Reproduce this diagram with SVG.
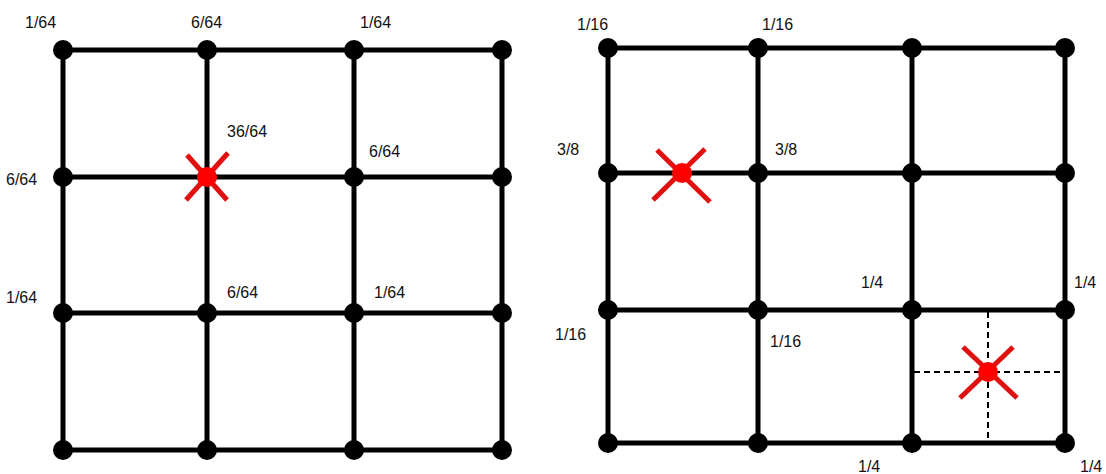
<svg xmlns="http://www.w3.org/2000/svg" width="1106" height="474" viewBox="0 0 1106 474">
<style>
.ln{stroke:#000;stroke-width:5;stroke-linecap:round}
.dash{stroke:#000;stroke-width:2;stroke-dasharray:6 4}
.nd{fill:#000}
.x{stroke:#e01010;stroke-width:5;stroke-linecap:butt}
.xd{fill:#f00}
text{font-family:"Liberation Sans",Arial,sans-serif;font-size:16px;fill:#111}
</style>
<rect width="1106" height="474" fill="#fff"/>
<g id="connectors">
  <line class="ln" x1="63" y1="50" x2="502" y2="50"/>
  <line class="ln" x1="63" y1="177" x2="502" y2="177"/>
  <line class="ln" x1="63" y1="313" x2="502" y2="313"/>
  <line class="ln" x1="63" y1="450" x2="502" y2="450"/>
  <line class="ln" x1="63" y1="50" x2="63" y2="450"/>
  <line class="ln" x1="207" y1="50" x2="207" y2="450"/>
  <line class="ln" x1="354" y1="50" x2="354" y2="450"/>
  <line class="ln" x1="502" y1="50" x2="502" y2="450"/>
  <line class="ln" x1="608" y1="48" x2="1065" y2="48"/>
  <line class="ln" x1="608" y1="173" x2="1065" y2="173"/>
  <line class="ln" x1="608" y1="310" x2="1065" y2="310"/>
  <line class="ln" x1="608" y1="443" x2="1065" y2="443"/>
  <line class="ln" x1="608" y1="48" x2="608" y2="443"/>
  <line class="ln" x1="758" y1="48" x2="758" y2="443"/>
  <line class="ln" x1="912" y1="48" x2="912" y2="443"/>
  <line class="ln" x1="1065" y1="48" x2="1065" y2="443"/>
  <line class="dash" x1="988" y1="312" x2="988" y2="441"/>
  <line class="dash" x1="914" y1="372" x2="1063" y2="372"/>
</g>
<g id="nodes-left">
  <g id="L00"><circle class="nd" cx="63" cy="50" r="10"/></g>
  <g id="L01"><circle class="nd" cx="207" cy="50" r="10"/></g>
  <g id="L02"><circle class="nd" cx="354" cy="50" r="10"/></g>
  <g id="L03"><circle class="nd" cx="502" cy="50" r="10"/></g>
  <g id="L10"><circle class="nd" cx="63" cy="177" r="10"/></g>
  <g id="L12"><circle class="nd" cx="354" cy="177" r="10"/></g>
  <g id="L13"><circle class="nd" cx="502" cy="177" r="10"/></g>
  <g id="L20"><circle class="nd" cx="63" cy="313" r="10"/></g>
  <g id="L21"><circle class="nd" cx="207" cy="313" r="10"/></g>
  <g id="L22"><circle class="nd" cx="354" cy="313" r="10"/></g>
  <g id="L23"><circle class="nd" cx="502" cy="313" r="10"/></g>
  <g id="L30"><circle class="nd" cx="63" cy="450" r="10"/></g>
  <g id="L31"><circle class="nd" cx="207" cy="450" r="10"/></g>
  <g id="L32"><circle class="nd" cx="354" cy="450" r="10"/></g>
  <g id="L33"><circle class="nd" cx="502" cy="450" r="10"/></g>
  <g id="L11-sample">
    <line class="x" x1="186" y1="200" x2="228" y2="153"/>
    <line class="x" x1="187" y1="155" x2="227" y2="200"/>
    <circle class="xd" cx="207" cy="177" r="10"/>
  </g>
</g>
<g id="nodes-right">
  <g id="R00"><circle class="nd" cx="608" cy="48" r="10"/></g>
  <g id="R01"><circle class="nd" cx="758" cy="48" r="10"/></g>
  <g id="R02"><circle class="nd" cx="912" cy="48" r="10"/></g>
  <g id="R03"><circle class="nd" cx="1065" cy="48" r="10"/></g>
  <g id="R10"><circle class="nd" cx="608" cy="173" r="10"/></g>
  <g id="R11"><circle class="nd" cx="758" cy="173" r="10"/></g>
  <g id="R12"><circle class="nd" cx="912" cy="173" r="10"/></g>
  <g id="R13"><circle class="nd" cx="1065" cy="173" r="10"/></g>
  <g id="R20"><circle class="nd" cx="608" cy="310" r="10"/></g>
  <g id="R21"><circle class="nd" cx="758" cy="310" r="10"/></g>
  <g id="R22"><circle class="nd" cx="912" cy="310" r="10"/></g>
  <g id="R23"><circle class="nd" cx="1065" cy="310" r="10"/></g>
  <g id="R30"><circle class="nd" cx="608" cy="443" r="10"/></g>
  <g id="R31"><circle class="nd" cx="758" cy="443" r="10"/></g>
  <g id="R32"><circle class="nd" cx="912" cy="443" r="10"/></g>
  <g id="R33"><circle class="nd" cx="1065" cy="443" r="10"/></g>
  <g id="R-sample1">
    <line class="x" x1="657" y1="150" x2="710" y2="202"/>
    <line class="x" x1="705" y1="149" x2="653" y2="200"/>
    <circle class="xd" cx="682" cy="173" r="10"/>
  </g>
  <g id="R-sample2">
    <line class="x" x1="963" y1="347" x2="1017" y2="398"/>
    <line class="x" x1="1013" y1="347" x2="960" y2="398"/>
    <circle class="xd" cx="988" cy="372" r="10"/>
  </g>
</g>
<g id="labels-left">
  <text x="25" y="28">1/64</text>
  <text x="191" y="28">6/64</text>
  <text x="360" y="28">1/64</text>
  <text x="227" y="137">36/64</text>
  <text x="6" y="185">6/64</text>
  <text x="369" y="157">6/64</text>
  <text x="6" y="303">1/64</text>
  <text x="227" y="298">6/64</text>
  <text x="374" y="298">1/64</text>
</g>
<g id="labels-right">
  <text x="577" y="30">1/16</text>
  <text x="762" y="30">1/16</text>
  <text x="557" y="155">3/8</text>
  <text x="775" y="155">3/8</text>
  <text x="861" y="288">1/4</text>
  <text x="1074" y="288">1/4</text>
  <text x="555" y="340">1/16</text>
  <text x="770" y="347">1/16</text>
  <text x="858" y="472">1/4</text>
  <text x="1080" y="472">1/4</text>
</g>
</svg>
